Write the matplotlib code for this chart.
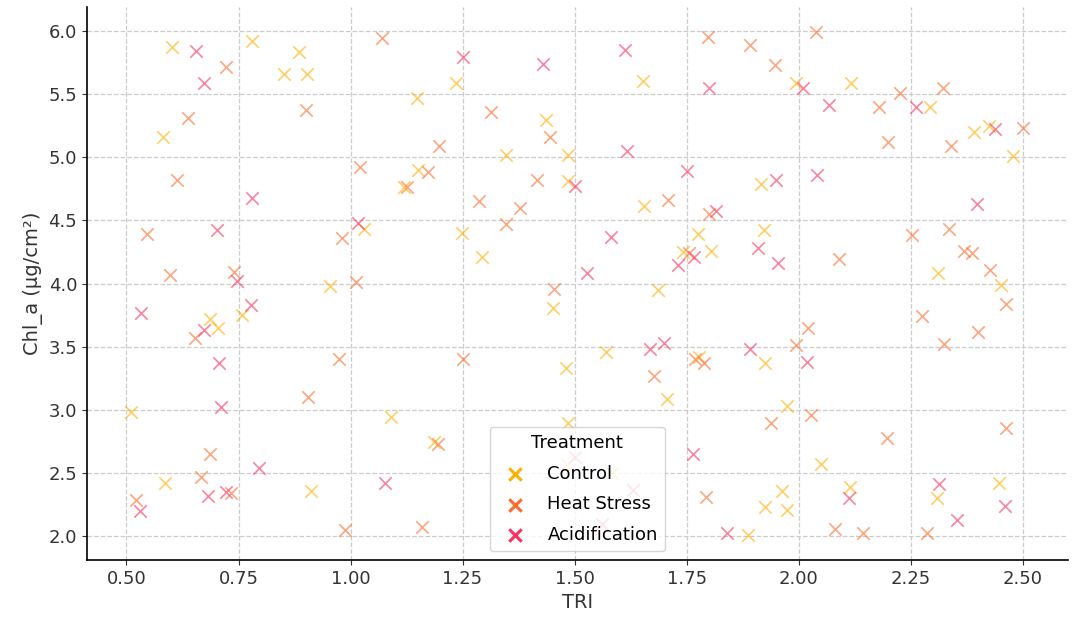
import numpy as np
import matplotlib
matplotlib.use("Agg")
import matplotlib.pyplot as plt

# Control
ctrl_x = [0.602, 0.781, 0.885, 0.851, 0.903, 0.581, 1.235, 1.148, 1.437, 1.348, 1.485,
          1.150, 1.120, 1.485, 1.652, 1.994, 1.915, 2.116, 2.294, 2.391, 2.424, 2.479,
          0.757, 0.687, 0.705, 0.955, 1.030, 1.249, 1.293, 1.452, 1.481, 1.654, 1.776,
          1.922, 1.742, 1.804, 1.687, 1.571, 1.777, 1.925, 2.310, 2.451, 0.511, 0.587,
          0.911, 1.091, 1.186, 1.485, 1.707, 1.974, 1.963, 1.924, 1.974, 1.887, 2.049,
          2.115, 2.308, 2.447, 1.483, 1.583]
ctrl_y = [5.87, 5.92, 5.83, 5.66, 5.66, 5.16, 5.59, 5.47, 5.29, 5.02, 5.02,
          4.90, 4.76, 4.81, 5.60, 5.59, 4.79, 5.59, 5.40, 5.20, 5.25, 5.01,
          3.75, 3.72, 3.65, 3.98, 4.43, 4.40, 4.21, 3.81, 3.33, 4.61, 4.39,
          4.42, 4.25, 4.26, 3.95, 3.46, 3.42, 3.37, 4.08, 3.99, 2.98, 2.42,
          2.36, 2.94, 2.75, 2.90, 3.09, 3.03, 2.36, 2.23, 2.21, 2.01, 2.57,
          2.39, 2.30, 2.42, 2.57, 2.50]

# Heat Stress
heat_x = [0.722, 0.900, 0.638, 0.613, 1.071, 1.313, 1.446, 1.197, 1.022, 1.173, 1.125,
          1.417, 1.287, 1.798, 1.892, 1.947, 2.038, 1.709, 2.179, 2.227, 2.322, 2.200,
          2.339, 2.501, 0.546, 0.596, 0.740, 0.652, 0.975, 1.378, 1.348, 0.980, 1.012,
          1.454, 1.252, 1.800, 1.755, 2.020, 1.994, 1.768, 1.788, 1.678, 2.254, 2.336,
          2.090, 2.369, 2.388, 2.427, 2.462, 2.275, 2.401, 2.325, 0.906, 0.686, 0.666,
          0.733, 0.522, 1.195, 0.988, 1.159, 1.938, 2.027, 1.794, 2.197, 2.462, 2.081,
          2.143, 2.286]
heat_y = [5.71, 5.37, 5.31, 4.82, 5.94, 5.36, 5.16, 5.09, 4.92, 4.88, 4.76,
          4.82, 4.65, 5.95, 5.89, 5.73, 5.99, 4.66, 5.40, 5.51, 5.55, 5.12,
          5.09, 5.23, 4.39, 4.07, 4.09, 3.57, 3.40, 4.60, 4.47, 4.36, 4.01,
          3.96, 3.40, 4.55, 4.24, 3.65, 3.51, 3.40, 3.37, 3.27, 4.38, 4.43,
          4.19, 4.26, 4.24, 4.11, 3.84, 3.74, 3.62, 3.52, 3.10, 2.65, 2.47,
          2.34, 2.29, 2.73, 2.05, 2.07, 2.90, 2.96, 2.31, 2.78, 2.86, 2.06,
          2.03, 2.03]

# Acidification
acid_x = [0.655, 0.674, 0.781, 1.250, 1.430, 1.501, 1.613, 1.799, 2.009, 1.618, 1.750,
          1.950, 2.040, 2.068, 2.262, 2.438, 0.702, 0.746, 0.533, 0.777, 0.674, 0.707,
          1.016, 1.816, 1.581, 1.767, 1.731, 1.909, 1.953, 1.528, 2.018, 1.668, 1.699,
          1.892, 2.399, 0.711, 0.795, 0.683, 0.722, 0.531, 1.076, 1.765, 1.841, 2.112,
          2.314, 2.354, 2.460, 1.501, 1.631, 1.561]
acid_y = [5.84, 5.59, 4.68, 5.79, 5.74, 4.77, 5.85, 5.55, 5.55, 5.05, 4.89,
          4.82, 4.86, 5.41, 5.40, 5.22, 4.42, 4.02, 3.77, 3.83, 3.63, 3.37,
          4.48, 4.57, 4.37, 4.21, 4.15, 4.28, 4.16, 4.08, 3.38, 3.48, 3.53,
          3.48, 4.63, 3.02, 2.54, 2.32, 2.35, 2.20, 2.42, 2.65, 2.03, 2.30,
          2.41, 2.13, 2.24, 2.63, 2.37, 2.10]

groups = ["Control", "Heat Stress", "Acidification"]
colors = ["#FFB000", "#FF6A2A", "#FF3060"]

fig, ax = plt.subplots(figsize=(10.72, 6.19), dpi=100)
fig.subplots_adjust(left=0.081, right=0.996, top=0.989, bottom=0.095)

for name, xs, ys, c in zip(groups, [ctrl_x, heat_x, acid_x], [ctrl_y, heat_y, acid_y], colors):
    ax.scatter(xs, ys, marker="x", s=80, color=c, alpha=0.6, linewidths=1.2, label=name)

ax.grid(True, linestyle="--", color="#cccccc", linewidth=0.9)
ax.set_axisbelow(True)
for s in ["top", "right"]:
    ax.spines[s].set_visible(False)
ax.spines["left"].set_linewidth(1.2)
ax.spines["bottom"].set_linewidth(1.2)

ax.set_xticks(np.arange(0.5, 2.51, 0.25))
ax.set_yticks(np.arange(2.0, 6.01, 0.5))
ax.tick_params(labelsize=13, colors="#333333")
ax.set_xlabel("TRI", fontsize=14, color="#333333")
ax.set_ylabel("Chl_a (μg/cm²)", fontsize=14, color="#333333")

leg = ax.legend(title="Treatment", loc="lower center", fontsize=13, title_fontsize=13,
                framealpha=0.8, edgecolor="#cccccc", labelspacing=0.7)
for h in leg.legend_handles:
    h.set_alpha(1)
    h.set_linewidth(2.2)

fig.savefig("out.png", dpi=100)
